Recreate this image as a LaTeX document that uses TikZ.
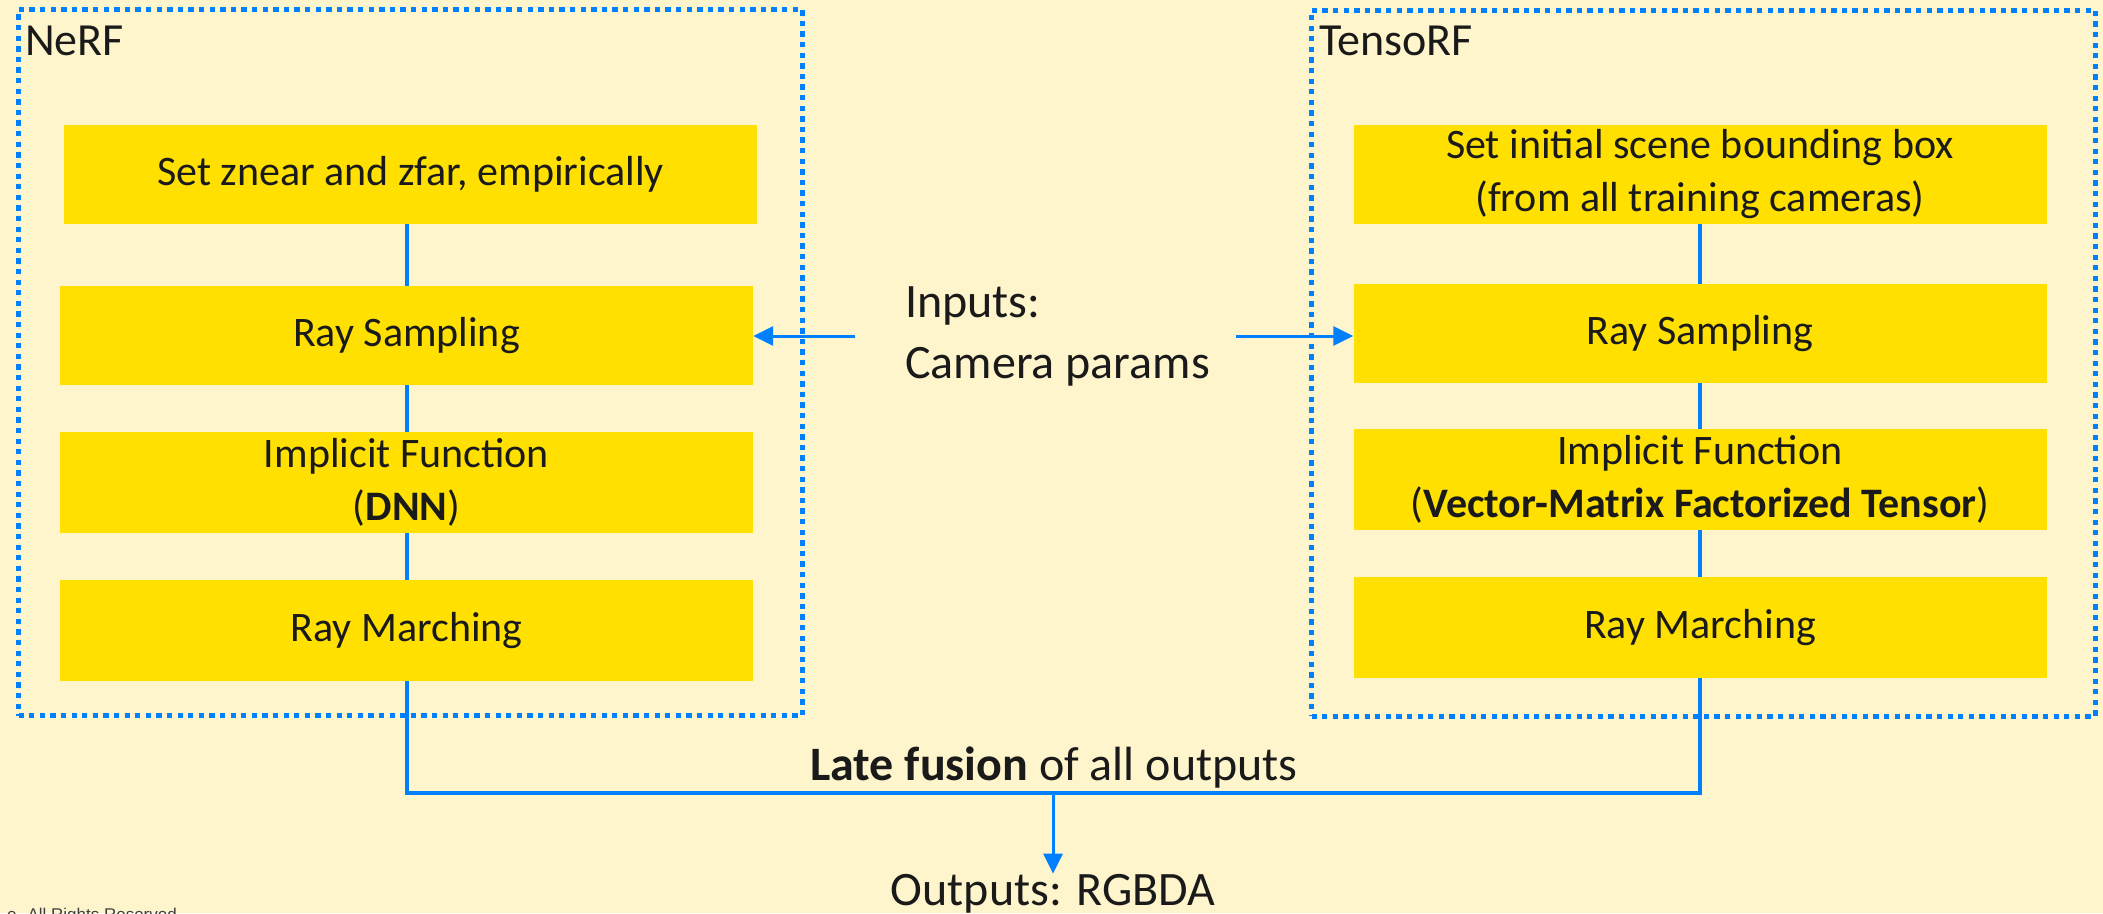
\documentclass[tikz,border=0pt]{standalone}
\usepackage{fontspec}
\setmainfont{Carlito}
\newfontfamily\footfont{Liberation Sans}
\usetikzlibrary{arrows.meta}
\definecolor{bgcream}{RGB}{255,245,204}
\definecolor{stepyellow}{RGB}{255,224,0}
\definecolor{flowblue}{RGB}{0,128,255}
\definecolor{inkblack}{RGB}{26,26,26}

\begin{document}
\begin{tikzpicture}[x=1pt,y=-1pt,
  stepbox/.style={rectangle, fill=stepyellow, minimum width=693pt, minimum height=99pt,
    inner sep=0pt, align=center, text=inkblack, font=\fontsize{42}{53}\selectfont},
  groupbox/.style={rectangle, draw=flowblue, line width=5pt, dash pattern=on 5.3pt off 5.3pt,
    inner sep=0pt, minimum width=784pt},
  grouplabel/.style={anchor=base west, text=inkblack, inner sep=0pt,
    font=\fontsize{46}{55}\selectfont},
  plaintext/.style={text=inkblack, inner sep=0pt, font=\fontsize{48}{61}\selectfont},
  wire/.style={draw=flowblue, line width=4pt},
  arr/.style={draw=flowblue, line width=3pt, -{Triangle[length=20pt,width=19pt]}}
]
% canvas
\fill[bgcream] (0,0) rectangle (2103,913);
\useasboundingbox (0,0) rectangle (2103,913);
\clip (0,0) rectangle (2103,913);

% dotted method frames
\node[groupbox, minimum height=706pt] (nerf) at (410.5,362.5) {};
\node[groupbox, minimum height=706pt] (tenso) at (1703.5,363) {};
\node[grouplabel] (nerflbl) at (25,55) {NeRF};
\node[grouplabel] (tensolbl) at (1319,55) {TensoRF};

% NeRF pipeline
\node[stepbox] (n1) at (410.5,174.5) {Set znear and zfar, empirically};
\node[stepbox] (n2) at (406.5,335.5) {Ray Sampling};
\node[stepbox, minimum height=101pt] (n3) at (406.5,482.5) {Implicit Function\\(\textbf{DNN})};
\node[stepbox, minimum height=101pt] (n4) at (406.5,630.5) {Ray Marching};

% TensoRF pipeline
\node[stepbox] (t1) at (1700,174.5) {Set initial scene bounding box\\(from all training cameras)};
\node[stepbox] (t2) at (1700,333.5) {Ray Sampling};
\node[stepbox, minimum height=101pt] (t3) at (1700,479.5) {Implicit Function\\(\textbf{Vector-Matrix Factorized Tensor})};
\node[stepbox, minimum height=101pt] (t4) at (1700,627.5) {Ray Marching};

% links between steps
\draw[wire] (n2.north |- n1.south) -- (n2.north);
\draw[wire] (n2.south) -- (n3.north);
\draw[wire] (n3.south) -- (n4.north);
\draw[wire] (t1.south) -- (t2.north);
\draw[wire] (t2.south) -- (t3.north);
\draw[wire] (t3.south) -- (t4.north);

% shared inputs
\node[plaintext, anchor=west, align=left] (inp) at (905,336) {Inputs:\\Camera params};
\coordinate (inL) at (855,336);
\coordinate (inR) at (1236,336);
\draw[arr] (inL) -- (inL -| n2.east);
\draw[arr] (inR) -- (inR -| t2.west);

% late fusion and outputs
\coordinate (fuse) at (1053,793);
\draw[wire] (n4.south) |- (fuse) -| (t4.south);
\node[plaintext, anchor=base] (fuslbl) at (1054,780) {\textbf{Late fusion} of all outputs};
\node[plaintext, anchor=base] (out) at (1053,905) {Outputs: RGBDA};
\draw[arr] (fuse) -- (out.north);

% footer
\node[anchor=base east, inner sep=0pt, text=black!75, font=\footfont\fontsize{17}{20}\selectfont] (copy) at (177,920) {e. All Rights Reserved};
\end{tikzpicture}
\end{document}
